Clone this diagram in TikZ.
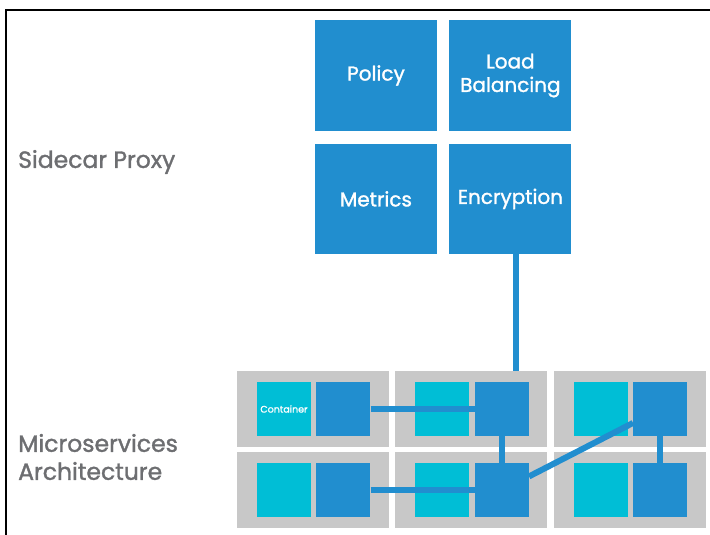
\documentclass[tikz,border=0pt]{standalone}
\usepackage{fontspec}
\setmainfont{Poppins}[FakeBold=1.4]
\usetikzlibrary{positioning}
\definecolor{ProxyBlue}{HTML}{218ECF}
\definecolor{PodCyan}  {HTML}{00BED6}
\definecolor{PodGray}  {HTML}{C8C8C8}
\definecolor{LabelGray}{HTML}{6D6E71}

\begin{document}
\begin{tikzpicture}[x=1pt,y=-1pt,
  proxy/.style={fill=ProxyBlue,text=white,minimum width=122pt,minimum height=110pt,
                inner sep=0pt,font=\fontsize{20}{23.5}\selectfont,align=center},
  panel/.style={fill=PodGray,minimum width=152pt,minimum height=76pt,inner sep=0pt},
  ctr/.style={fill=PodCyan,minimum size=54pt,inner sep=0pt,text=white,
              font=\fontsize{9.5}{11}\selectfont},
  side/.style={fill=ProxyBlue,minimum size=54pt,inner sep=0pt},
  link/.style={draw=ProxyBlue,line width=6pt},
  caption/.style={text=LabelGray,font=\fontsize{23.5}{28}\selectfont,
                  align=left,anchor=west,inner sep=0pt}
]
  \useasboundingbox (0,0) rectangle (710,535);
  % frame
  \draw[line width=2pt] (6,535) -- (6,10.5) -- (710,10.5);

  % sidecar proxy
  \node[proxy] (pol) at (376,75.5) {Policy};
  \node[proxy, right=12pt of pol] (lb)  {Load\\Balancing};
  \node[proxy, below=13pt of pol] (met) {Metrics};
  \node[proxy, right=12pt of met] (enc) {Encryption};

  % pods
  \node[panel] (p11) at (313,409) {};
  \node[panel, right=6pt of p11] (p12) {};
  \node[panel, right=6pt of p12] (p13) {};
  \node[panel, below=5pt of p11] (p21) {};
  \node[panel, right=6pt of p21] (p22) {};
  \node[panel, right=6pt of p22] (p23) {};

  \node[ctr] (c11) at ([xshift=-29pt]p11.center) {Container};
  \node[side, right=5pt of c11] (b11) {};
  \node[ctr] (c12) at ([xshift=-29pt]p12.center) {};
  \node[side, right=5pt of c12] (b12) {};
  \node[ctr] (c13) at ([xshift=-29pt]p13.center) {};
  \node[side, right=5pt of c13] (b13) {};
  \node[ctr] (c21) at ([xshift=-29pt]p21.center) {};
  \node[side, right=5pt of c21] (b21) {};
  \node[ctr] (c22) at ([xshift=-29pt]p22.center) {};
  \node[side, right=5pt of c22] (b22) {};
  \node[ctr] (c23) at ([xshift=-29pt]p23.center) {};
  \node[side, right=5pt of c23] (b23) {};

  % mesh links
  \coordinate (drop) at ([xshift=5.5pt]enc.south);
  \draw[link] (drop) -- (drop |- p12.north);
  \draw[link] (b11) -- (b12);
  \draw[link] (b21) -- (b22);
  \draw[link] (b12) -- (b22);
  \draw[link] (b22) -- (b13);
  \draw[link] (b13) -- (b23);

  % captions
  \node[caption] (sc) at (18,162) {Sidecar Proxy};
  \node[caption] (ms) at (18,457) {Microservices\\Architecture};
\end{tikzpicture}
\end{document}
